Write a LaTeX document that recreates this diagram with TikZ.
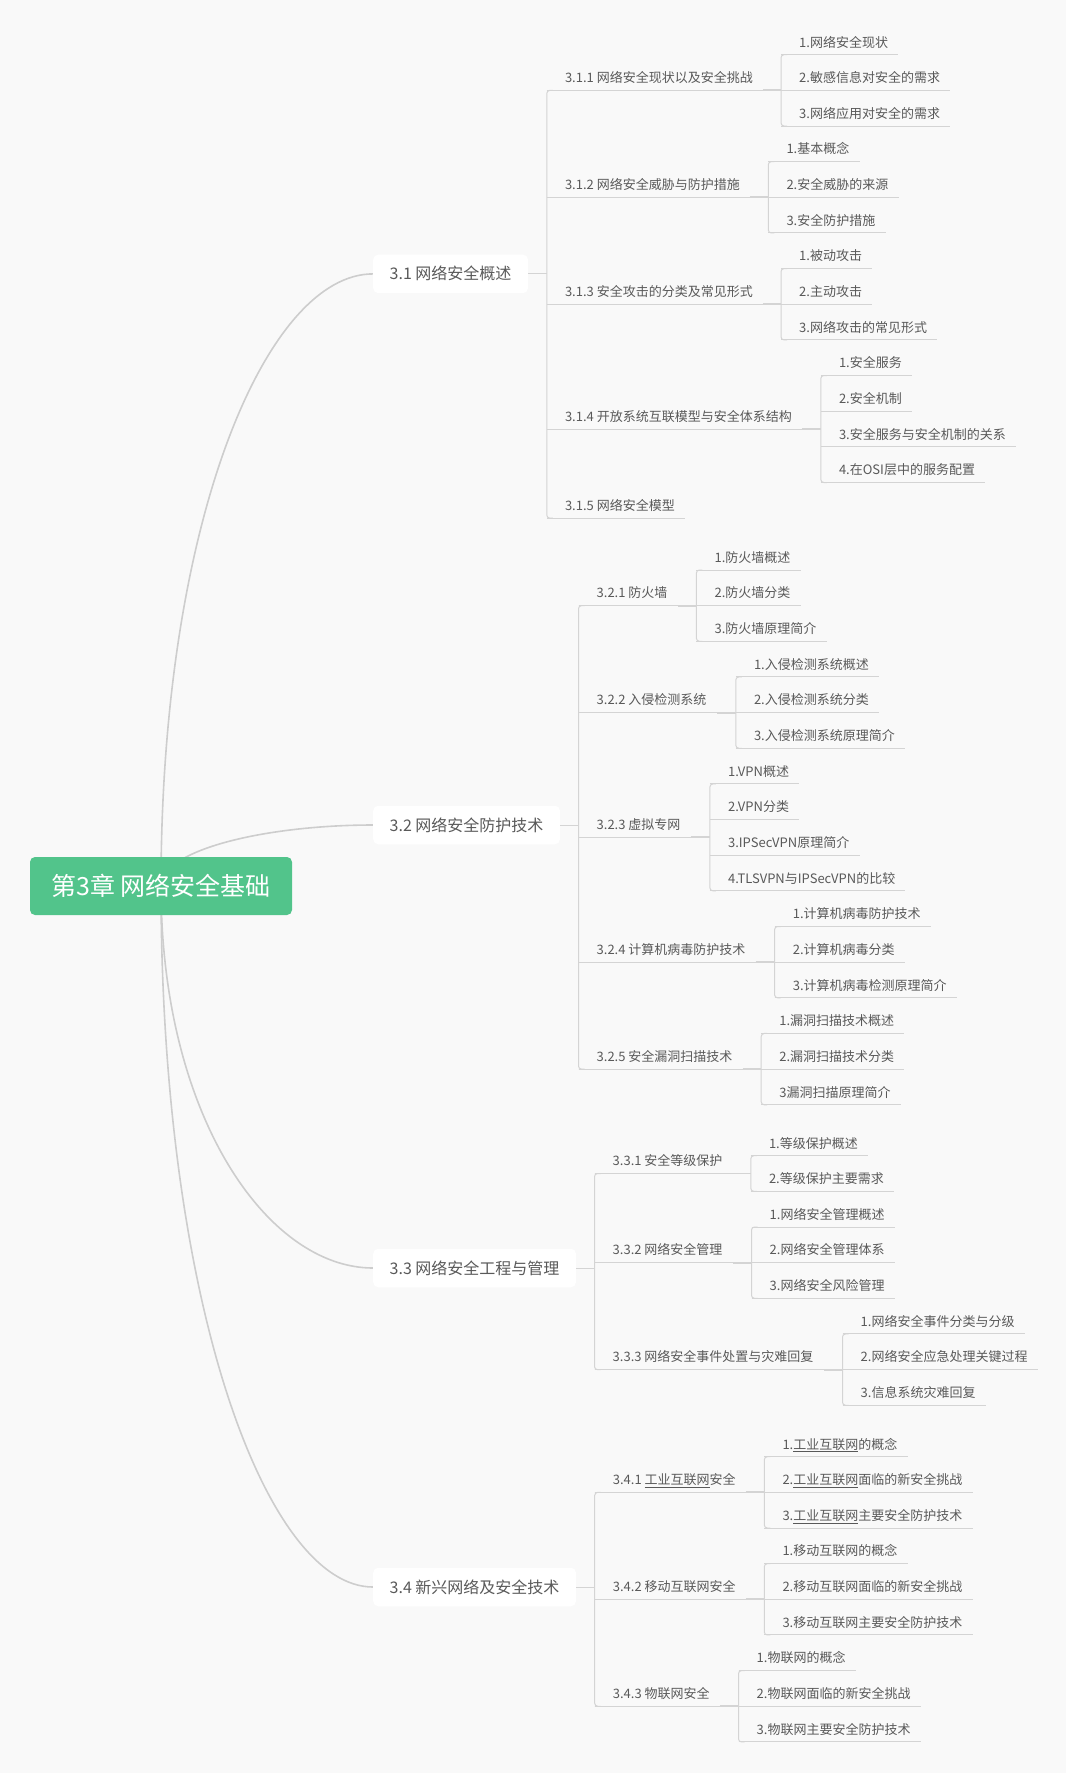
\documentclass[tikz,border=0pt]{standalone}
\usepackage{fontspec}
\setmainfont{Noto Sans CJK SC}
\usetikzlibrary{calc}
\definecolor{bgc}{HTML}{F9F9F9}
\definecolor{rootc}{HTML}{52C48B}
\definecolor{txt}{HTML}{595959}
\definecolor{lnc}{HTML}{D4D4D4}
\definecolor{crvc}{HTML}{CDCDCD}
\pgfdeclarelayer{bg}
\pgfsetlayers{bg,main}
\tikzset{
  leaf/.style={anchor=south west, inner xsep=0pt, inner ysep=7.5pt, text=txt,
    font=\fontsize{13}{15}\selectfont, text height=11.4pt, text depth=0pt},
  lone/.style={anchor=west, fill=white, rounded corners=5pt, inner xsep=16.5pt,
    inner ysep=0pt, minimum height=38.5pt, text=txt,
    font=\fontsize{16}{19}\selectfont, text height=14.08pt, text depth=1.92pt},
  rootbox/.style={fill=rootc, rounded corners=5pt, minimum width=262pt,
    minimum height=58pt, inner sep=0pt, text=white,
    font=\fontsize{25}{30}\selectfont, text height=22pt, text depth=3pt},
  ln/.style={draw=lnc, line width=1pt},
  lnk/.style={draw=lnc, line width=1.8pt},
  crv/.style={draw=crvc, line width=1.6pt},
}
% leaf / branch text node with its underline
\newcommand\Lf[4]{\node[leaf] (#1) at (#2,#3) {\hspace*{18pt}#4\hspace*{10pt}};
  \draw[ln] (#1.south west) -- (#1.south east);}
% connector from a branch node to the trunk of its children
\newcommand\Cn[2]{\draw[ln] (#1.south west) -- (#2.south west |- #1.south west);
  \draw[lnk] (#1.south east) -- (#2.south west |- #1.south east);}
% vertical trunk with rounded ends from first to last child
\newcommand\Tr[2]{\draw[ln, rounded corners=3pt] ([xshift=6pt]#1.south west) -- (#1.south west) -- (#2.south west) -- ([xshift=6pt]#2.south west);}
\newcommand\ulk[1]{\underline{#1}}
\begin{document}
\begin{tikzpicture}[x=1pt,y=-1pt]
\begin{pgfonlayer}{bg}
\fill[bgc] (0,0) rectangle (1066,1773);
\end{pgfonlayer}
\useasboundingbox (0,0) rectangle (1066,1773);

\node[rootbox] (root) at (161,886) {第3章 网络安全基础};

% ---------- 3.1 ----------
\node[lone] (b1) at (373,273.9) {3.1 网络安全概述};
\Lf{c11}{546.8}{90.35}{3.1.1 网络安全现状以及安全挑战}
\Lf{d111}{781}{54.70}{1.网络安全现状}
\Lf{d112}{781}{90.35}{2.敏感信息对安全的需求}
\Lf{d113}{781}{126.00}{3.网络应用对安全的需求}
\Lf{c12}{546.8}{197.30}{3.1.2 网络安全威胁与防护措施}
\Lf{d121}{768.3}{161.65}{1.基本概念}
\Lf{d122}{768.3}{197.30}{2.安全威胁的来源}
\Lf{d123}{768.3}{232.95}{3.安全防护措施}
\Lf{c13}{546.8}{304.25}{3.1.3 安全攻击的分类及常见形式}
\Lf{d131}{781}{268.60}{1.被动攻击}
\Lf{d132}{781}{304.25}{2.主动攻击}
\Lf{d133}{781}{339.90}{3.网络攻击的常见形式}
\Lf{c14}{546.8}{429.03}{3.1.4 开放系统互联模型与安全体系结构}
\Lf{d141}{820.8}{375.55}{1.安全服务}
\Lf{d142}{820.8}{411.20}{2.安全机制}
\Lf{d143}{820.8}{446.85}{3.安全服务与安全机制的关系}
\Lf{d144}{820.8}{482.50}{4.在OSI层中的服务配置}
\Lf{c15}{546.8}{518.15}{3.1.5 网络安全模型}
\draw[ln] (b1.east) -- (c11.south west |- b1.east);
\Tr{c11}{c15}
\Cn{c11}{d111}\Tr{d111}{d113}
\Cn{c12}{d121}\Tr{d121}{d123}
\Cn{c13}{d131}\Tr{d131}{d133}
\Cn{c14}{d141}\Tr{d141}{d144}

% ---------- 3.2 ----------
\node[lone] (b2) at (373,825) {3.2 网络安全防护技术};
\Lf{c21}{578.5}{605.65}{3.2.1 防火墙}
\Lf{d211}{696.4}{570.00}{1.防火墙概述}
\Lf{d212}{696.4}{605.65}{2.防火墙分类}
\Lf{d213}{696.4}{641.30}{3.防火墙原理简介}
\Lf{c22}{578.5}{712.60}{3.2.2 入侵检测系统}
\Lf{d221}{735.8}{676.95}{1.入侵检测系统概述}
\Lf{d222}{735.8}{712.60}{2.入侵检测系统分类}
\Lf{d223}{735.8}{748.25}{3.入侵检测系统原理简介}
\Lf{c23}{578.5}{837.38}{3.2.3 虚拟专网}
\Lf{d231}{709.9}{783.90}{1.VPN概述}
\Lf{d232}{709.9}{819.55}{2.VPN分类}
\Lf{d233}{709.9}{855.20}{3.IPSecVPN原理简介}
\Lf{d234}{709.9}{890.85}{4.TLSVPN与IPSecVPN的比较}
\Lf{c24}{578.5}{962.15}{3.2.4 计算机病毒防护技术}
\Lf{d241}{774.6}{926.50}{1.计算机病毒防护技术}
\Lf{d242}{774.6}{962.15}{2.计算机病毒分类}
\Lf{d243}{774.6}{997.80}{3.计算机病毒检测原理简介}
\Lf{c25}{578.5}{1069.10}{3.2.5 安全漏洞扫描技术}
\Lf{d251}{761.2}{1033.45}{1.漏洞扫描技术概述}
\Lf{d252}{761.2}{1069.10}{2.漏洞扫描技术分类}
\Lf{d253}{761.2}{1104.75}{3漏洞扫描原理简介}
\draw[ln] (b2.east) -- (c21.south west |- b2.east);
\Tr{c21}{c25}
\Cn{c21}{d211}\Tr{d211}{d213}
\Cn{c22}{d221}\Tr{d221}{d223}
\Cn{c23}{d231}\Tr{d231}{d234}
\Cn{c24}{d241}\Tr{d241}{d243}
\Cn{c25}{d251}\Tr{d251}{d253}

% ---------- 3.3 ----------
\node[lone] (b3) at (373,1268) {3.3 网络安全工程与管理};
\Lf{c31}{594.5}{1173.53}{3.3.1 安全等级保护}
\Lf{d311}{750.8}{1155.70}{1.等级保护概述}
\Lf{d312}{750.8}{1191.35}{2.等级保护主要需求}
\Lf{c32}{594.5}{1262.65}{3.3.2 网络安全管理}
\Lf{d321}{751.5}{1227.00}{1.网络安全管理概述}
\Lf{d322}{751.5}{1262.65}{2.网络安全管理体系}
\Lf{d323}{751.5}{1298.30}{3.网络安全风险管理}
\Lf{c33}{594.5}{1369.60}{3.3.3 网络安全事件处置与灾难回复}
\Lf{d331}{842.5}{1333.95}{1.网络安全事件分类与分级}
\Lf{d332}{842.5}{1369.60}{2.网络安全应急处理关键过程}
\Lf{d333}{842.5}{1405.25}{3.信息系统灾难回复}
\draw[ln] (b3.east) -- (c31.south west |- b3.east);
\Tr{c31}{c33}
\Cn{c31}{d311}\Tr{d311}{d312}
\Cn{c32}{d321}\Tr{d321}{d323}
\Cn{c33}{d331}\Tr{d331}{d333}

% ---------- 3.4 ----------
\node[lone] (b4) at (373,1587) {3.4 新兴网络及安全技术};
\Lf{c41}{594.7}{1492.35}{3.4.1 \ulk{工业互联网}安全}
\Lf{d411}{764.3}{1456.70}{1.\ulk{工业互联网}的概念}
\Lf{d412}{764.3}{1492.35}{2.\ulk{工业互联网}面临的新安全挑战}
\Lf{d413}{764.3}{1528.00}{3.\ulk{工业互联网}主要安全防护技术}
\Lf{c42}{594.7}{1599.30}{3.4.2 移动互联网安全}
\Lf{d421}{764.3}{1563.65}{1.移动互联网的概念}
\Lf{d422}{764.3}{1599.30}{2.移动互联网面临的新安全挑战}
\Lf{d423}{764.3}{1634.95}{3.移动互联网主要安全防护技术}
\Lf{c43}{594.7}{1706.25}{3.4.3 物联网安全}
\Lf{d431}{738.5}{1670.60}{1.物联网的概念}
\Lf{d432}{738.5}{1706.25}{2.物联网面临的新安全挑战}
\Lf{d433}{738.5}{1741.90}{3.物联网主要安全防护技术}
\draw[ln] (b4.east) -- (c41.south west |- b4.east);
\Tr{c41}{c43}
\Cn{c41}{d411}\Tr{d411}{d413}
\Cn{c42}{d421}\Tr{d421}{d423}
\Cn{c43}{d431}\Tr{d431}{d433}

% ---------- curves from the root ----------
\begin{pgfonlayer}{bg}
\foreach \b in {b1,b2,b3,b4}{
  \draw[crv] (root.center) .. controls ($(root.center)!0.6!(root.center |- \b.west)$)
    and ($(\b.west)!0.5!(root.center |- \b.west)$) .. (\b.west);
}
\end{pgfonlayer}
\end{tikzpicture}
\end{document}
